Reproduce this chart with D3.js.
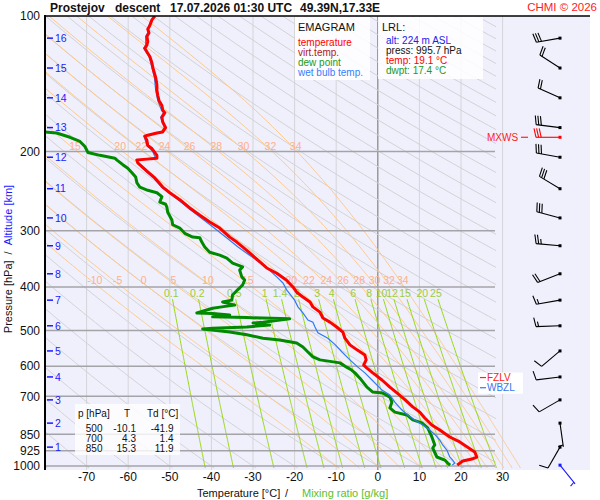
<!DOCTYPE html>
<html><head><meta charset="utf-8">
<script src="https://cdn.jsdelivr.net/npm/d3@7"></script>
<style>
body{margin:0;background:#fff}
svg text{font-family:"Liberation Sans",Arial,Helvetica,sans-serif}
</style>
</head><body>
<svg id="c" width="600" height="500"></svg>
<script>
// ---------------- data ----------------
const pressureTicks=[100,200,300,400,500,600,700,850,925,1000];
const tempTicks=[-70,-60,-50,-40,-30,-20,-10,0,10,20,30];
const dryThetaC=d3.range(-80,320,10);            // dry adiabats, theta in degC at 1000 hPa
const thetaW=[-10,-5,0,5,10,15,20,22,24,26,28,30,32,34];
const thetaWLabels200=[15,20,22,24,26,28,30,32,34];
const mixRatios=[0.1,0.2,0.5,1,1.4,2,3,4,6,8,10,12,15,20,25];

const tempP=[100,102,105,107,109,111,114,116,118,121,123,127,130,133,137,142,146,150,154,158,162,164,168,172,177,181,182,184,185,189,194,197,200,204,207,208,209,212,217,222,229,240,247,256,267,277,287,296,310,318,326,336,354,363,373,386,400,411,421,432,443,455,469,479,491,504,520,538,552,567,581,597,606,621,644,668,688,712,739,759,782,811,832,862,884,908,931,955,965,975,995.7];
const tempT=[-53.6,-54.3,-54.8,-55.3,-55.0,-55.5,-55.3,-55.5,-56.0,-55.3,-54.8,-54.3,-54.1,-53.8,-53.4,-53.1,-53.1,-52.9,-52.6,-51.9,-51.7,-51.2,-51.9,-51.7,-51.0,-51.7,-53.1,-55.3,-56.0,-55.5,-55.3,-54.3,-53.8,-53.1,-53.1,-55.5,-57.9,-57.7,-56.5,-55.3,-53.6,-51.7,-50.0,-47.6,-45.2,-42.8,-40.4,-38.0,-35.6,-33.9,-32.5,-30.8,-28.0,-26.7,-24.3,-22.0,-20.4,-19.5,-18.0,-16.3,-15.6,-13.9,-13.2,-11.5,-9.9,-8.4,-7.9,-6.7,-5.0,-3.1,-2.8,-3.4,-2.6,-1.2,1.0,2.9,4.6,6.5,8.4,10.1,11.3,13.0,14.9,17.3,19.7,21.6,23.3,23.8,22.6,20.4,19.1];

const dewP=[181,182,186,190,195,201,204,206,207,209,214,218,223,228,235,240,244,247,252,259,262,266,273,284,291,296,304,310,311,318,326,335,340,345,354,361,367,380,386,396,406,417,428,432,439,443,446,457,458,462,466,468,471,479,481,486,491,494,496,504,511,520,525,533,544,558,572,581,590,603,612,621,638,668,685,688,703,721,743,759,770,790,802,823,862,898,912,955,970,985,995.7];
const dewT=[-80.5,-77.2,-74.0,-71.6,-70.4,-69.7,-66.8,-64.4,-63.2,-62.7,-61.3,-60.1,-59.1,-58.2,-57.9,-57.2,-55.3,-53.1,-51.9,-52.4,-51.0,-50.7,-50.5,-49.5,-49.3,-47.6,-46.4,-44.5,-42.8,-42.3,-41.6,-40.4,-38.0,-36.3,-34.9,-32.5,-33.2,-32.7,-32.0,-32.5,-33.7,-34.9,-35.1,-37.3,-34.4,-37.5,-39.7,-43.5,-39.7,-35.6,-39.7,-31.5,-21.2,-27.6,-30.0,-26.0,-31.5,-39.7,-42.1,-35.6,-31.5,-27.6,-23.6,-19.5,-18.0,-16.8,-15.6,-13.9,-9.1,-7.5,-6.3,-5.5,-4.3,-2.6,-1.2,1.2,2.9,3.4,2.9,4.1,7.0,8.4,10.6,12.0,13.0,13.7,13.2,14.2,16.1,16.8,17.4];

const wbP=[100,105,109,111,116,118,123,130,137,146,154,162,164,168,177,181,185,194,200,207,209,217,229,240,256,267,294,315,326,343,361,380,392,406,428,443,457,474,479,491,506,520,538,558,581,603,621,644,678,695,721,751,770,790,811,832,851,876,898,922,955,970,985,995.7];
const wbT=[-53.8,-55.0,-55.3,-55.8,-55.8,-56.3,-55.0,-54.3,-53.7,-53.4,-52.9,-52.0,-51.5,-52.2,-51.3,-52.0,-56.2,-55.5,-54.1,-53.4,-58.1,-56.8,-53.9,-52.0,-48.0,-45.6,-39.7,-35.6,-33.6,-30.3,-26.9,-24.3,-22.8,-21.9,-20.0,-19.2,-18.0,-16.8,-15.6,-15.1,-14.4,-12.0,-10.2,-8.6,-6.7,-4.8,-3.1,-1.4,1.0,2.9,4.1,5.8,7.2,8.9,10.8,12.5,13.7,14.9,15.6,16.6,17.3,18.0,18.5,17.9];

const altKm=[1,2,3,4,5,6,7,8,9,10,11,12,13,14,15,16];
const altP=[908,803,713,634,555,488,428,374,324,281,242,206,177,152,130.5,112];
const windDir=[210,172,240,263,230,268,260,249,275,285,301,280,277,294,303,260];
const windSpd=[10,3,10,10,10,15,15,20,25,30,30,30,30,20,20,30];
const mxwsP=186, mxwsDir=270, mxwsSpd=30;
const sfcP=995.7, sfcDir=141, sfcSpd=5;
const fzlvP=636, wbzlP=670;

const tableHead=["p [hPa]","T","Td [°C]"];
const tableRows=[["500","-10.1","-41.9"],["700","4.3","1.4"],["850","15.3","11.9"]];
const legendItems=[["temperature","#ff0000"],["virt.temp.","#b01818"],["dew point","#229922"],["wet bulb temp.","#3380ff"]];
const lrlItems=[["alt: 224 m ASL","#2020ee"],["press: 995.7 hPa","#111"],["temp: 19.1 °C","#ff0000"],["dwpt: 17.4 °C","#229922"]];

// ---------------- scales ----------------
const svg=d3.select('#c');
const y=d3.scaleLog().domain([100,1000]).range([16,466]);
const x=d3.scaleLinear().domain([-80,30]).range([45,502.6]);
const ln=d3.line().x(d=>x(d[1])).y(d=>y(d[0]));

const defs=svg.append('defs');
function clip(id,x0,y0,w,h){defs.append('clipPath').attr('id',id).append('rect').attr('x',x0).attr('y',y0).attr('width',w).attr('height',h);}
clip('cDiag',45,16,480,454);
clip('cDry',45,16,451,454);
clip('cPlot',45,16,545,454);

// background
svg.append('rect').attr('x',45).attr('y',16).attr('width',545).attr('height',454).attr('fill','#f0f0fc');

// isotherms
const gI=svg.append('g').attr('clip-path','url(#cPlot)');
tempTicks.forEach(t=>{
  gI.append('line').attr('x1',x(t)).attr('x2',x(t)).attr('y1',16).attr('y2',470)
   .attr('stroke',t===0?'#8c8c8c':'#d4d4d8').attr('stroke-width',t===0?1.3:1);
});

// dry adiabats
const gD=svg.append('g').attr('clip-path','url(#cDry)');
const pGrid=d3.range(100,1011,5);
dryThetaC.forEach(th=>{
  const pts=pGrid.map(p=>[p,(th+273.15)*Math.pow(p/1000,0.2857)-273.15]);
  gD.append('path').attr('d',ln(pts)).attr('fill','none').attr('stroke','#d2d2d6').attr('stroke-width',1);
});

// pseudo adiabats
function dTdp(p,T){const Tc=T-273.15;const e=6.112*Math.exp(17.67*Tc/(Tc+243.5));const rs=0.622*e/(p-e);
  return (287.04*T+2.501e6*rs)/(p*(1005.7+2.501e6*2.501e6*rs*0.622/(287.04*T*T)));}
function moistPath(thw){
  let T=thw+273.15,p=1000;const pts=[[1010,thw+dTdp(1000,T)*10],[1000,thw]];const h=-2;
  while(p>100){const k1=dTdp(p,T),k2=dTdp(p+h/2,T+h/2*k1),k3=dTdp(p+h/2,T+h/2*k2),k4=dTdp(p+h,T+h*k3);
    T+=h/6*(k1+2*k2+2*k3+k4);p+=h;pts.push([p,T-273.15]);}
  return pts;}
function tAt(pts,p){for(let i=1;i<pts.length;i++){const a=pts[i-1],b=pts[i];if((a[0]-p)*(b[0]-p)<=0){const f=(p-a[0])/(b[0]-a[0]);return a[1]+f*(b[1]-a[1]);}}return null;}
const gM=svg.append('g').attr('clip-path','url(#cDiag)');
const moist={};
thetaW.forEach(tw=>{const pts=moistPath(tw);moist[tw]=pts;
  gM.append('path').attr('d',ln(pts)).attr('fill','none').attr('stroke','#ffc98a').attr('stroke-width',1);});

// mixing ratio lines
function tdOf(w,p){const e=w*p/(622+w);const l=Math.log(e/6.112);return 243.5*l/(17.67-l);}
const gW=svg.append('g').attr('clip-path','url(#cDiag)');
mixRatios.forEach(w=>{const pts=d3.range(426,1011,4).map(p=>[p,tdOf(w,p)]);
  gW.append('path').attr('d',ln(pts)).attr('fill','none').attr('stroke','#96d80c').attr('stroke-width',1);});

// pressure lines
pressureTicks.filter(p=>p>100).forEach(p=>{
  svg.append('line').attr('x1',45).attr('x2',495).attr('y1',y(p)).attr('y2',y(p)).attr('stroke','#a4a4a8').attr('stroke-width',1.5);
});

// labels of pseudo adiabats
const gL=svg.append('g').attr('font-size',10.5).attr('text-anchor','middle').attr('fill','#ffaf8a');
const p400=y.invert(282), p200=y.invert(148);
thetaW.forEach(tw=>{const t=tAt(moist[tw],p400);if(t!==null&&x(t)>50)gL.append('text').attr('x',x(t)+2).attr('y',284).text(tw);});
thetaWLabels200.forEach(tw=>{const t=tAt(moist[tw],p200);if(t!==null&&x(t)>50)gL.append('text').attr('x',x(t)+2).attr('y',150).text(tw);});
// mixing ratio labels
const gML=svg.append('g').attr('font-size',10.5).attr('text-anchor','middle').attr('fill','#9ccc3c');
const pMix=y.invert(293);
mixRatios.forEach(w=>gML.append('text').attr('x',x(tdOf(w,pMix))).attr('y',297).text(w));

// profiles
const gC=svg.append('g').attr('clip-path','url(#cPlot)');
const zip=(a,b)=>a.map((p,i)=>[p,b[i]]);
gC.append('path').attr('d',ln(zip(dewP,dewT))).attr('fill','none').attr('stroke','#008a00').attr('stroke-width',3).attr('stroke-linejoin','round');
gC.append('path').attr('d',ln(zip(wbP,wbT))).attr('fill','none').attr('stroke','#2f7bf0').attr('stroke-width',1.2);
gC.append('path').attr('d',ln(zip(tempP,tempT))).attr('fill','none').attr('stroke','#ff0000').attr('stroke-width',3).attr('stroke-linejoin','round');

// axes frame
svg.append('line').attr('x1',45).attr('x2',45).attr('y1',15).attr('y2',470).attr('stroke','#000').attr('stroke-width',2);
svg.append('line').attr('x1',44).attr('x2',590).attr('y1',16).attr('y2',16).attr('stroke','#000').attr('stroke-width',1.5);

// y tick labels
pressureTicks.forEach(p=>svg.append('text').attr('x',40).attr('y',y(p)).attr('dy','0.36em').attr('text-anchor','end').attr('font-size',12).attr('fill','#111').text(p));
// x tick labels
tempTicks.forEach(t=>svg.append('text').attr('x',x(t)).attr('y',481).attr('text-anchor','middle').attr('font-size',12).attr('fill','#111').text(t));

// altitude ticks
altKm.forEach((k,i)=>{const yy=y(altP[i]);
  svg.append('line').attr('x1',47).attr('x2',53).attr('y1',yy).attr('y2',yy).attr('stroke','#1a1aff').attr('stroke-width',1.5);
  svg.append('text').attr('x',55).attr('y',yy).attr('dy','0.36em').attr('font-size',10.5).attr('fill','#1a1aff').text(k);});

// axis titles
svg.append('text').attr('x',197).attr('y',497).attr('font-size',11).attr('fill','#111').text('Temperature [°C]');
svg.append('text').attr('x',285).attr('y',497).attr('font-size',11).attr('fill','#111').text('/');
svg.append('text').attr('x',302).attr('y',497).attr('font-size',11).attr('fill','#5cc030').text('Mixing ratio [g/kg]');
const yl=svg.append('text').attr('transform','translate(12,259) rotate(-90)').attr('text-anchor','middle').attr('font-size',11);
yl.append('tspan').attr('fill','#111').text('Pressure [hPa]');
yl.append('tspan').attr('fill','#111').attr('dx',6).text('/');
yl.append('tspan').attr('fill','#1a1aff').attr('dx',6).text('Altitude [km]');

// title
const tt=svg.append('g').attr('font-size',12).attr('font-weight','bold').attr('fill','#111');
tt.append('text').attr('x',50).attr('y',12).text('Prostejov');
tt.append('text').attr('x',115).attr('y',12).text('descent');
tt.append('text').attr('x',170).attr('y',12).text('17.07.2026 01:30 UTC');
tt.append('text').attr('x',300).attr('y',12).text('49.39N,17.33E');
svg.append('text').attr('x',597).attr('y',11).attr('text-anchor','end').attr('font-size',11.5).attr('fill','#ff2020').text('CHMI © 2026');

// legend box
svg.append('rect').attr('x',295).attr('y',17).attr('width',75).attr('height',63).attr('fill','#fff').attr('fill-opacity',0.85);
svg.append('text').attr('x',298).attr('y',31).attr('font-size',11).attr('fill','#111').text('EMAGRAM');
legendItems.forEach((d,i)=>svg.append('text').attr('x',298).attr('y',46+i*10).attr('font-size',10).attr('fill',d[1]).text(d[0]));
// LRL box
svg.append('rect').attr('x',378).attr('y',17).attr('width',105).attr('height',62).attr('fill','#fff').attr('fill-opacity',0.85);
svg.append('text').attr('x',382).attr('y',31).attr('font-size',11).attr('fill','#111').text('LRL:');
lrlItems.forEach((d,i)=>svg.append('text').attr('x',386).attr('y',44+i*10).attr('font-size',10).attr('fill',d[1]).text(d[0]));

// table
svg.append('rect').attr('x',75).attr('y',404).attr('width',105).attr('height',51).attr('fill','#fff').attr('fill-opacity',0.8);
const th=svg.append('g').attr('font-size',10).attr('fill','#111');
th.append('text').attr('x',78).attr('y',417).text(tableHead[0]);
th.append('text').attr('x',124).attr('y',417).text(tableHead[1]);
th.append('text').attr('x',147).attr('y',417).text(tableHead[2]);
const colX=[102.5,136,173.5];
tableRows.forEach((r,i)=>r.forEach((v,j)=>th.append('text').attr('x',colX[j]).attr('y',432+i*10).attr('text-anchor','end').text(v)));

// wind barbs
function barb(p,dir,spd,color){
  const cx=560,cy=y(p),L=24,r=dir*Math.PI/180,ux=Math.sin(r),uy=-Math.cos(r);
  const ex=cx+ux*L,ey=cy+uy*L,nx=-uy,ny=ux;
  const g=svg.append('g').attr('stroke',color).attr('stroke-width',1.1).attr('fill','none');
  g.append('line').attr('x1',cx).attr('y1',cy).attr('x2',ex).attr('y2',ey);
  const s=Math.round(spd/5)*5;let full=Math.floor(s/10),half=(s%10)>=5?1:0,pos=0;
  for(let i=0;i<full;i++){const px=ex-ux*pos,py=ey-uy*pos;
    g.append('line').attr('x1',px).attr('y1',py).attr('x2',px+nx*9+ux*2).attr('y2',py+ny*9+uy*2);pos+=2.6;}
  if(half){if(full===0)pos=2;const px=ex-ux*pos,py=ey-uy*pos;
    g.append('line').attr('x1',px).attr('y1',py).attr('x2',px+nx*5+ux*1).attr('y2',py+ny*5+uy*1);}
  svg.append('rect').attr('x',cx-1.5).attr('y',cy-1.5).attr('width',3).attr('height',3).attr('fill',color);
}
altP.forEach((p,i)=>barb(p,windDir[i],windSpd[i],'#000'));
barb(mxwsP,mxwsDir,mxwsSpd,'#ff0000');
barb(sfcP,sfcDir,sfcSpd,'#1a1aff');
svg.append('text').attr('x',487).attr('y',y(mxwsP)).attr('dy','0.36em').attr('font-size',10).attr('fill','#ff2020').text('MXWS');
svg.append('line').attr('x1',521).attr('x2',528).attr('y1',y(mxwsP)).attr('y2',y(mxwsP)).attr('stroke','#ff2020').attr('stroke-width',1.2);

// FZLV / WBZL
svg.append('rect').attr('x',478).attr('y',y(fzlvP)-5).attr('width',45).attr('height',y(wbzlP)-y(fzlvP)+11).attr('fill','#fff');
[[fzlvP,'FZLV','#ff2020'],[wbzlP,'WBZL','#3377ee']].forEach(d=>{
  const yy=y(d[0]);
  svg.append('line').attr('x1',480).attr('x2',486).attr('y1',yy).attr('y2',yy).attr('stroke',d[2]).attr('stroke-width',1.2);
  svg.append('text').attr('x',487).attr('y',yy).attr('dy','0.36em').attr('font-size',10).attr('fill',d[2]).text(d[1]);
});
</script>
</body></html>
